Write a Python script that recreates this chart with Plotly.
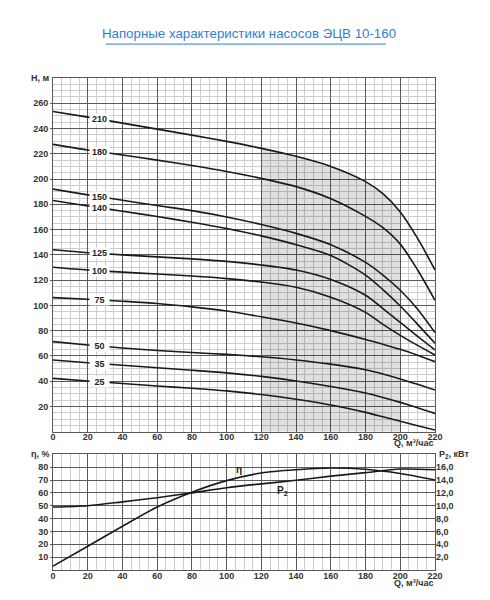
import numpy as np
import plotly.graph_objects as go

# --- напорные характеристики (верхний график) ---
Q_TOP = [0, 20, 40, 60, 80, 100, 120, 140, 160, 180, 190, 200, 210, 220]

H_210 = [253.5, 249, 244.3, 239.5, 234.8, 229.8, 224.3, 218, 210, 198, 188.5, 174, 153, 128]
H_180 = [227.5, 223, 219, 215, 210.7, 206, 200.5, 194, 184.5, 170.5, 161.5, 148.5, 128, 104]
H_150 = [192, 187.5, 183.2, 179, 175, 170, 164, 157, 148, 134, 124, 112, 97, 78.5]
H_140 = [183, 178.7, 174.5, 170.3, 165.8, 160.8, 155, 148, 139.5, 124, 112.5, 99.5, 85, 70]
H_125 = [144, 141.7, 140, 138.4, 136.8, 134.8, 132, 128, 120.5, 108, 97.5, 86.5, 75.5, 64.7]
H_100 = [130.2, 128, 126.3, 124.8, 123.2, 121.2, 118.5, 114.3, 106.5, 94.5, 85, 76.3, 68.3, 60.7]
H_75 = [106.1, 104.8, 103.3, 101.5, 98.8, 95.5, 91, 86, 80, 73, 69.2, 65.2, 60.5, 55.4]
H_50 = [71.3, 68.6, 66.3, 64.3, 62.7, 61.2, 59.3, 56.8, 53.5, 49, 45.7, 41.8, 37.5, 33]
H_35 = [56.8, 54.6, 52.6, 50.6, 48.7, 46.6, 43.8, 40.2, 35.8, 30.6, 27.1, 23.2, 19, 14.5]
H_25 = [42.2, 40.1, 38.2, 36.2, 34.4, 32.3, 29.4, 25.7, 21.2, 15.3, 11.8, 8.2, 4.7, 1.3]

CURVES = [("210", H_210), ("180", H_180), ("150", H_150), ("140", H_140),
          ("125", H_125), ("100", H_100), ("75", H_75), ("50", H_50),
          ("35", H_35), ("25", H_25)]

WORK_ZONE = (120, 200)   # рабочая зона (серая заливка)
LABEL_Q = 27

# --- КПД и мощность (нижний график) ---
Q_BOT = [0, 20, 40, 60, 80, 100, 120, 140, 160, 180, 200, 220]
ETA = [3, 18.5, 34, 49, 60.5, 69.5, 75.5, 78, 79.3, 78.3, 75, 70]
P2 = [9.8, 10.0, 10.6, 11.25, 12.0, 12.8, 13.4, 13.95, 14.6, 15.15, 15.7, 15.6]

Q_TICKS = list(range(0, 221, 20))
H_TICKS = list(range(20, 261, 20))
ETA_TICKS = list(range(10, 81, 10))
P_TICKS = [2, 4, 6, 8, 10, 12, 14, 16]
P_TICKTEXT = ["2,0", "4,0", "6,0", "8,0", "10,0", "12,0", "14,0", "16,0"]

FONT = "Liberation Sans, Arial, sans-serif"
MAJOR = "#5a5a5a"
MINOR = "#cdcdcd"
tickfont = dict(family=FONT, size=9, color="#333", weight="bold")
curve_line = dict(color="#1a1a1a", width=1.6, shape="spline", smoothing=0.8)

fig = go.Figure()

# серая зона под кривой 210
qz = [q for q in Q_TOP if WORK_ZONE[0] <= q <= WORK_ZONE[1]]
hz = [h for q, h in zip(Q_TOP, H_210) if WORK_ZONE[0] <= q <= WORK_ZONE[1]]
fig.add_trace(go.Scatter(x=qz, y=hz, mode="lines", line=dict(width=0, shape="spline"),
                         fill="tozeroy", fillcolor="rgba(0,0,0,0.12)",
                         hoverinfo="skip", showlegend=False, xaxis="x", yaxis="y"))

for name, h in CURVES:
    fig.add_trace(go.Scatter(x=Q_TOP, y=h, mode="lines", name=name, line=curve_line,
                             showlegend=False, xaxis="x", yaxis="y"))

fig.add_trace(go.Scatter(x=Q_BOT, y=ETA, mode="lines", name="η", line=curve_line,
                         showlegend=False, xaxis="x2", yaxis="y2"))
fig.add_trace(go.Scatter(x=Q_BOT, y=P2, mode="lines", name="P2", line=curve_line,
                         showlegend=False, xaxis="x2", yaxis="y3"))

annotations = []
for name, h in CURVES:
    annotations.append(dict(x=LABEL_Q, y=float(np.interp(LABEL_Q, Q_TOP, h)), xref="x", yref="y",
                            text=name, showarrow=False, bgcolor="white", width=19, height=10,
                            borderpad=0, font=dict(family=FONT, size=9, color="#222", weight="bold")))

small = dict(family=FONT, size=9, color="#333", weight="bold")
annotations += [
    dict(x=0, y=1, xref="x domain", yref="y domain", text="H, м", showarrow=False,
         xanchor="right", yanchor="middle", xshift=-1, font=small),
    dict(x=1, y=0, xref="x domain", yref="y domain", text="Q, м³/час", showarrow=False,
         xanchor="right", yanchor="middle", yshift=-11, font=small),
    dict(x=0, y=1, xref="x2 domain", yref="y2 domain", text="η, %", showarrow=False,
         xanchor="right", yanchor="middle", xshift=-1, font=small),
    dict(x=1, y=1, xref="x2 domain", yref="y2 domain", text="P<sub>2</sub>, кВт", showarrow=False,
         xanchor="left", yanchor="middle", xshift=2, font=small),
    dict(x=1, y=0, xref="x2 domain", yref="y2 domain", text="Q, м³/час", showarrow=False,
         xanchor="right", yanchor="middle", yshift=-13, font=small),
    dict(x=107, y=float(np.interp(107, Q_BOT, ETA)), xref="x2", yref="y2", text="η",
         showarrow=False, yshift=8, font=dict(family=FONT, size=10, color="#222", weight="bold")),
    dict(x=132, y=float(np.interp(132, Q_BOT, P2)), xref="x2", yref="y3", text="P<sub>2</sub>",
         showarrow=False, yshift=-9, font=dict(family=FONT, size=10, color="#222", weight="bold")),
]

xcommon = dict(range=[0, 220], tickvals=Q_TICKS, showgrid=True, gridcolor=MAJOR, gridwidth=1,
               minor=dict(tickmode="linear", tick0=0, dtick=5, showgrid=True, gridcolor=MINOR, gridwidth=1),
               showline=True, linecolor=MAJOR, linewidth=1, mirror=True, zeroline=False,
               ticks="", tickfont=tickfont, ticklabelstandoff=-3)

fig.update_layout(
    width=482, height=592,
    margin=dict(l=45, r=55, t=70, b=30),
    paper_bgcolor="white", plot_bgcolor="white",
    title=dict(text="Напорные характеристики насосов ЭЦВ 10-160", x=0.5, xanchor="center",
               y=0.957, yanchor="middle", yref="container",
               font=dict(family=FONT, size=13.3, color="#2f7fd6")),
    xaxis=dict(domain=[0, 1], anchor="y", **xcommon),
    yaxis=dict(domain=[0.2811, 1.0], anchor="x", range=[0, 280], tickvals=H_TICKS,
               showgrid=True, gridcolor=MAJOR, gridwidth=1,
               minor=dict(tickmode="linear", tick0=0, dtick=5, showgrid=True, gridcolor=MINOR, gridwidth=1),
               showline=True, linecolor=MAJOR, linewidth=1, mirror=True, zeroline=False,
               ticks="outside", ticklen=2, tickcolor=MAJOR, tickfont=tickfont, ticklabelstandoff=0),
    xaxis2=dict(domain=[0, 1], anchor="y2", **xcommon),
    yaxis2=dict(domain=[0, 0.2352], anchor="x2", range=[0, 90], tickvals=ETA_TICKS,
                showgrid=True, gridcolor=MAJOR, gridwidth=1,
                showline=True, linecolor=MAJOR, linewidth=1, mirror=True, zeroline=False,
                ticks="outside", ticklen=2, tickcolor=MAJOR, tickfont=tickfont, ticklabelstandoff=0),
    yaxis3=dict(overlaying="y2", side="right", anchor="x2", range=[0, 18], tickvals=P_TICKS,
                ticktext=P_TICKTEXT, showgrid=False, zeroline=False, showline=False,
                ticks="", tickfont=tickfont, ticklabelstandoff=0),
    annotations=annotations,
    shapes=[dict(type="line", xref="paper", yref="paper", x0=0.138, x1=0.871, y0=1.069, y1=1.069,
                 line=dict(color="#2f7fd6", width=1))],
)

fig.write_html("out.html")
